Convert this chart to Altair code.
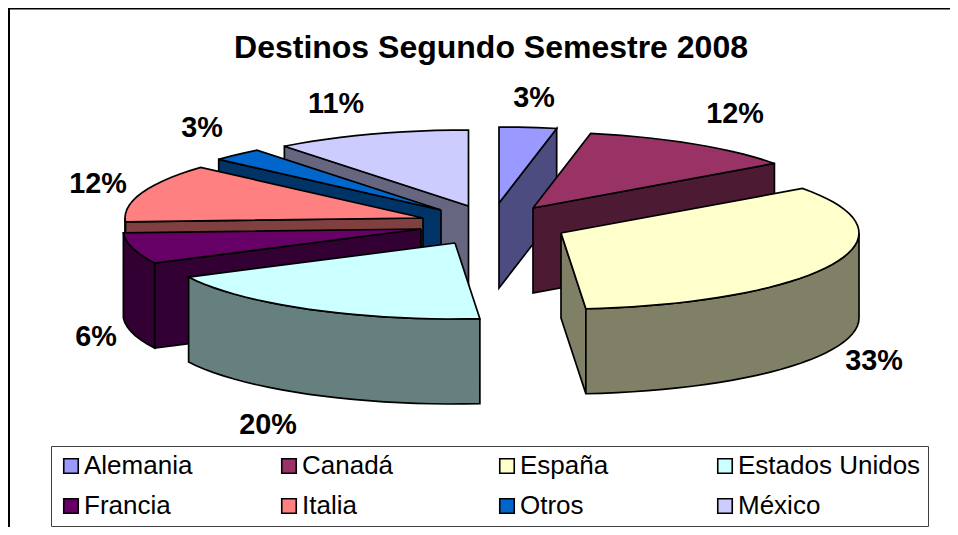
import math
import altair as alt
import pandas as pd

# ---- chart values ----
countries = ["Alemania", "Canadá", "España", "Estados Unidos", "Francia", "Italia", "Otros", "México"]
arc_shares = [3.1, 11.93, 33.64, 18.93, 6.6, 12.4, 2.8, 10.6]   # visible arc widths, % of the turn
pct_labels = ["3%", "12%", "33%", "20%", "6%", "12%", "3%", "11%"]
top_colors = ["#9999FF", "#993366", "#FFFFCC", "#CCFFFF", "#660066", "#FF8080", "#0066CC", "#CCCCFF"]
wall_colors = ["#4C4C80", "#4D1A33", "#808066", "#668080", "#330033", "#804040", "#003366", "#666680"]
title_text = "Destinos Segundo Semestre 2008"

# ---- layout of the tilted, exploded pie (page pixels) ----
FONT = "Liberation Sans"
RX, RY, DEPTH = 298, 76, 85
PLOT_W, PLOT_H = 942, 519
apex = {
    "Alemania": (499, 203), "Canadá": (533, 208), "España": (561, 233),
    "Estados Unidos": (455, 243), "Francia": (421, 229), "Italia": (423, 218),
    "Otros": (441, 210), "México": (468.5, 206),
}
paint_order = ["México", "Alemania", "Canadá", "Otros", "Italia", "Francia", "España", "Estados Unidos"]
label_pos = {  # centre x, baseline y of each percentage label
    "Alemania": (534, 107), "Canadá": (735, 123), "España": (874, 370),
    "Estados Unidos": (268, 434), "Francia": (96, 346), "Italia": (98, 193),
    "Otros": (202, 137), "México": (336, 113),
}

X = alt.X("x:Q", scale=alt.Scale(domain=[8, 8 + PLOT_W]), axis=None)
Y = alt.Y("y:Q", scale=alt.Scale(domain=[8 + PLOT_H, 8]), axis=None)
ORDER = alt.Order("o:Q")


def rim(ax, ay, deg):
    r = math.radians(deg)
    return ax + RX * math.sin(r), ay - RY * math.cos(r)


def arc_pts(ax, ay, a, b):
    n = max(2, int(abs(b - a) / 3) + 1)
    return [rim(ax, ay, a + (b - a) * i / (n - 1)) for i in range(n)]


def frame(pts, **extra):
    pts = list(pts) + [pts[0]]
    return pd.DataFrame([{"x": p[0], "y": p[1], "o": i, **extra} for i, p in enumerate(pts)])


def wall(pts, colour):
    return alt.Chart(frame(pts)).mark_line(
        stroke="black", strokeWidth=1.7, fill=colour, strokeJoin="miter"
    ).encode(x=X, y=Y, order=ORDER)


legend = alt.Legend(
    title=None, orient="none", legendX=43, legendY=438, direction="horizontal", columns=4,
    gridAlign="all", symbolType="square", symbolSize=210, symbolStrokeColor="black",
    symbolStrokeWidth=1.6, symbolOpacity=1, labelFont=FONT, labelFontSize=26, labelColor="black",
    labelLimit=300, symbolOffset=0, labelOffset=0, columnPadding=9, rowPadding=14,
    strokeColor="#404040", fillColor="white", padding=7,
)
FILL = alt.Fill(
    "name:N", scale=alt.Scale(domain=countries, range=top_colors), legend=legend, sort=countries
)

layers = []

# outer frame of the chart (left and top edges only are in view)
border = pd.DataFrame({"x": [9, 9, 8 + PLOT_W], "y": [8 + PLOT_H, 8.5, 8.5], "o": [0, 1, 2]})
layers.append(alt.Chart(border).mark_line(color="black", strokeWidth=2).encode(x=X, y=Y, order=ORDER))

# slice angles from the shares
total = sum(arc_shares)
cum = 0.0
angles = {}
for c, s in zip(countries, arc_shares):
    angles[c] = (cum / total * 360, (cum + s) / total * 360)
    cum += s

for c in paint_order:
    i = countries.index(c)
    ax, ay = apex[c]
    a, b = angles[c]
    wc = wall_colors[i]
    # radial wall facing the viewer
    if b < 180:
        e = rim(ax, ay, b)
        layers.append(wall([(ax, ay), e, (e[0], e[1] + DEPTH), (ax, ay + DEPTH)], wc))
    elif a > 180:
        e = rim(ax, ay, a)
        layers.append(wall([(ax, ay), e, (e[0], e[1] + DEPTH), (ax, ay + DEPTH)], wc))
    # curved outer wall on the front half
    lo, hi = max(a, 90), min(b, 270)
    if hi > lo:
        top = arc_pts(ax, ay, lo, hi)
        bottom = [(p[0], p[1] + DEPTH) for p in reversed(top)]
        layers.append(wall(top + bottom, wc))
    # top face
    pts = [(ax, ay)] + arc_pts(ax, ay, a, b)
    layers.append(
        alt.Chart(frame(pts, name=c)).mark_line(stroke="black", strokeWidth=1.7, strokeJoin="miter")
        .encode(x=X, y=Y, order=ORDER, fill=FILL)
    )

# percentage labels
lab = pd.DataFrame({
    "x": [label_pos[c][0] for c in countries],
    "y": [label_pos[c][1] for c in countries],
    "t": pct_labels,
})
layers.append(
    alt.Chart(lab).mark_text(font=FONT, fontSize=28.8, fontWeight="bold", color="black",
                             align="center", baseline="alphabetic")
    .encode(x=X, y=Y, text="t:N")
)

# title
ttl = pd.DataFrame({"x": [491], "y": [58], "t": [title_text]})
layers.append(
    alt.Chart(ttl).mark_text(font=FONT, fontSize=32, fontWeight="bold", color="black",
                             align="center", baseline="alphabetic")
    .encode(x=X, y=Y, text="t:N")
)

chart = alt.layer(*layers).properties(
    width=PLOT_W, height=PLOT_H, padding=0, background="white",
    autosize=alt.AutoSizeParams(type="none", contains="padding"),
).configure_view(stroke=None)
chart.save("out.html", embed_options={"renderer": "svg", "actions": False})
